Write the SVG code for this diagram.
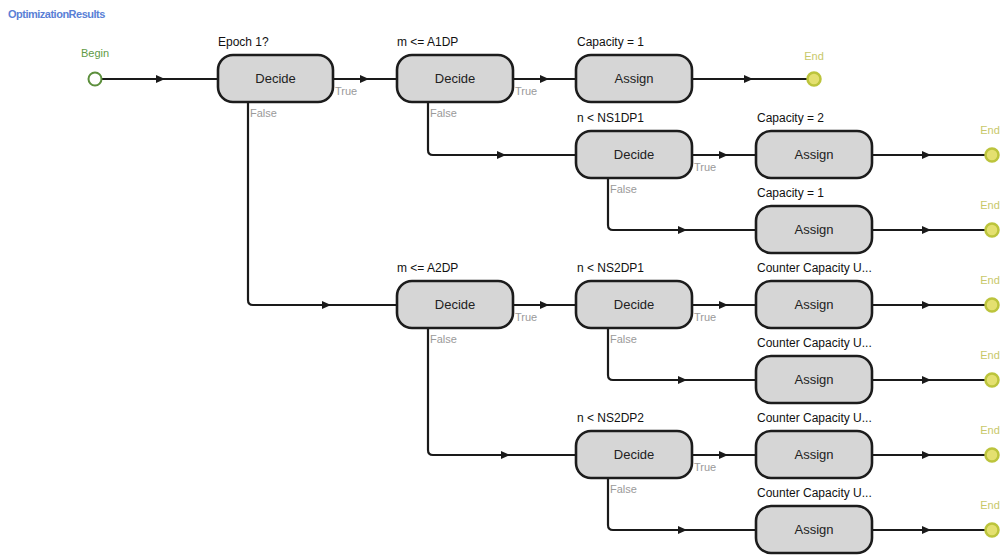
<svg xmlns="http://www.w3.org/2000/svg" xmlns:xlink="http://www.w3.org/1999/xlink" width="1005" height="558" viewBox="0 0 1005 558">
<defs>
<style>
.box{fill:#d6d6d6;stroke:#1c1c1c;stroke-width:2.6}
.bt{font-family:"Liberation Sans",Arial,sans-serif;font-size:13px;fill:#222;text-anchor:middle}
.lbl{font-family:"Liberation Sans",Arial,sans-serif;font-size:12px;fill:#111}
.tf{font-family:"Liberation Sans",Arial,sans-serif;font-size:11px;fill:#9a9a9a}
.ln{fill:none;stroke:#1a1a1a;stroke-width:2.2}
.end{fill:#e4e070;stroke:#bcc43c;stroke-width:2.5}
.endt{font-family:"Liberation Sans",Arial,sans-serif;font-size:11px;fill:#c8c86a;text-anchor:middle}
.ah{fill:#1a1a1a}
</style>
<path id="ah" d="M-6,-4 L3,0 L-6,4 Z"/>
</defs>
<rect width="1005" height="558" fill="#ffffff"/>
<text x="8" y="18" style="font-family:'Liberation Sans',Arial,sans-serif;font-size:11px;font-weight:bold;fill:#5a7fd6;letter-spacing:-0.5px">OptimizationResults</text>

<g id="connectors">
<path class="ln" d="M102,79 H218"/><use href="#ah" x="162" y="79" class="ah"/>
<path class="ln" d="M333,79 H397"/><use href="#ah" x="366" y="79" class="ah"/>
<path class="ln" d="M513,79 H576"/><use href="#ah" x="546" y="79" class="ah"/>
<path class="ln" d="M692,79 H807"/><use href="#ah" x="750" y="79" class="ah"/>

<path class="ln" d="M428,102 V150 Q428,155 433,155 H576"/><use href="#ah" x="503" y="155" class="ah"/>
<path class="ln" d="M692,155 H756"/><use href="#ah" x="725" y="155" class="ah"/>
<path class="ln" d="M872,155 H985"/><use href="#ah" x="928" y="155" class="ah"/>

<path class="ln" d="M608,179 V225 Q608,230 613,230 H756"/><use href="#ah" x="684" y="230" class="ah"/>
<path class="ln" d="M872,230 H985"/><use href="#ah" x="928" y="230" class="ah"/>

<path class="ln" d="M248,102 V300 Q248,305 253,305 H397"/><use href="#ah" x="328" y="305" class="ah"/>
<path class="ln" d="M513,305 H576"/><use href="#ah" x="546" y="305" class="ah"/>
<path class="ln" d="M692,305 H756"/><use href="#ah" x="725" y="305" class="ah"/>
<path class="ln" d="M872,305 H985"/><use href="#ah" x="928" y="305" class="ah"/>

<path class="ln" d="M608,329 V375 Q608,380 613,380 H756"/><use href="#ah" x="684" y="380" class="ah"/>
<path class="ln" d="M872,380 H985"/><use href="#ah" x="928" y="380" class="ah"/>

<path class="ln" d="M428,329 V450 Q428,455 433,455 H576"/><use href="#ah" x="507" y="455" class="ah"/>
<path class="ln" d="M692,455 H756"/><use href="#ah" x="725" y="455" class="ah"/>
<path class="ln" d="M872,455 H985"/><use href="#ah" x="928" y="455" class="ah"/>

<path class="ln" d="M608,479 V525 Q608,530 613,530 H756"/><use href="#ah" x="684" y="530" class="ah"/>
<path class="ln" d="M872,530 H985"/><use href="#ah" x="928" y="530" class="ah"/>

<text class="tf" x="335" y="95">True</text>
<text class="tf" x="250" y="117">False</text>
<text class="tf" x="515" y="95">True</text>
<text class="tf" x="430" y="117">False</text>
<text class="tf" x="694" y="171">True</text>
<text class="tf" x="610" y="193">False</text>
<text class="tf" x="515" y="321">True</text>
<text class="tf" x="430" y="343">False</text>
<text class="tf" x="694" y="321">True</text>
<text class="tf" x="610" y="343">False</text>
<text class="tf" x="694" y="471">True</text>
<text class="tf" x="610" y="493">False</text>
</g>

<g id="begin">
<text x="95" y="57" style="font-family:'Liberation Sans',Arial,sans-serif;font-size:11px;fill:#5f9a45;text-anchor:middle">Begin</text>
<circle cx="95" cy="79" r="6.5" fill="#ffffff" stroke="#5c8f3c" stroke-width="2"/>
</g>

<g id="decide1"><text class="lbl" x="218" y="46">Epoch 1?</text><rect class="box" x="218" y="55" width="115" height="47" rx="15"/><text class="bt" x="275.5" y="83">Decide</text></g>
<g id="decide2"><text class="lbl" x="397" y="46">m &lt;= A1DP</text><rect class="box" x="397" y="55" width="116" height="47" rx="15"/><text class="bt" x="455" y="83">Decide</text></g>
<g id="assign1"><text class="lbl" x="577" y="46">Capacity = 1</text><rect class="box" x="576" y="55" width="116" height="47" rx="15"/><text class="bt" x="634" y="83">Assign</text></g>
<g id="end1"><text class="endt" x="814" y="60">End</text><circle class="end" cx="814" cy="79" r="6.5"/></g>

<g id="decide3"><text class="lbl" x="577" y="122">n &lt; NS1DP1</text><rect class="box" x="576" y="131" width="116" height="47" rx="15"/><text class="bt" x="634" y="159">Decide</text></g>
<g id="assign2"><text class="lbl" x="757" y="122">Capacity = 2</text><rect class="box" x="756" y="131" width="116" height="47" rx="15"/><text class="bt" x="814" y="159">Assign</text></g>
<g id="end2"><text class="endt" x="990" y="134">End</text><circle class="end" cx="992" cy="155" r="6.5"/></g>

<g id="assign3"><text class="lbl" x="757" y="197">Capacity = 1</text><rect class="box" x="756" y="206" width="116" height="47" rx="15"/><text class="bt" x="814" y="234">Assign</text></g>
<g id="end3"><text class="endt" x="990" y="209">End</text><circle class="end" cx="992" cy="230" r="6.5"/></g>

<g id="decide4"><text class="lbl" x="397" y="272">m &lt;= A2DP</text><rect class="box" x="397" y="281" width="116" height="47" rx="15"/><text class="bt" x="455" y="309">Decide</text></g>
<g id="decide5"><text class="lbl" x="577" y="272">n &lt; NS2DP1</text><rect class="box" x="576" y="281" width="116" height="47" rx="15"/><text class="bt" x="634" y="309">Decide</text></g>
<g id="assign4"><text class="lbl" x="757" y="272">Counter Capacity U...</text><rect class="box" x="756" y="281" width="116" height="47" rx="15"/><text class="bt" x="814" y="309">Assign</text></g>
<g id="end4"><text class="endt" x="990" y="284">End</text><circle class="end" cx="992" cy="305" r="6.5"/></g>

<g id="assign5"><text class="lbl" x="757" y="347">Counter Capacity U...</text><rect class="box" x="756" y="356" width="116" height="47" rx="15"/><text class="bt" x="814" y="384">Assign</text></g>
<g id="end5"><text class="endt" x="990" y="359">End</text><circle class="end" cx="992" cy="380" r="6.5"/></g>

<g id="decide6"><text class="lbl" x="577" y="422">n &lt; NS2DP2</text><rect class="box" x="576" y="431" width="116" height="47" rx="15"/><text class="bt" x="634" y="459">Decide</text></g>
<g id="assign6"><text class="lbl" x="757" y="422">Counter Capacity U...</text><rect class="box" x="756" y="431" width="116" height="47" rx="15"/><text class="bt" x="814" y="459">Assign</text></g>
<g id="end6"><text class="endt" x="990" y="434">End</text><circle class="end" cx="992" cy="455" r="6.5"/></g>

<g id="assign7"><text class="lbl" x="757" y="497">Counter Capacity U...</text><rect class="box" x="756" y="506" width="116" height="47" rx="15"/><text class="bt" x="814" y="534">Assign</text></g>
<g id="end7"><text class="endt" x="990" y="509">End</text><circle class="end" cx="992" cy="530" r="6.5"/></g>
</svg>
